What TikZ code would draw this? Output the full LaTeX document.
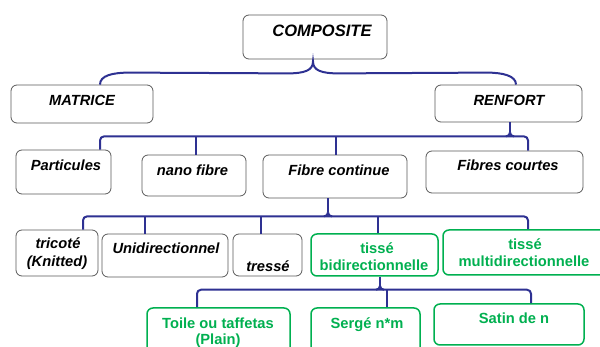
\documentclass[tikz,border=0pt]{standalone}
\usepackage{fontspec}
\setmainfont{Liberation Sans}
\definecolor{conncol}{RGB}{46,49,146}
\definecolor{boxgray}{RGB}{90,90,90}
\definecolor{grn}{RGB}{0,176,80}
\begin{document}
\begin{tikzpicture}[x=1pt,y=-1pt,
  box/.style={draw=boxgray, line width=0.8pt, rounded corners=6pt, inner sep=0pt},
  gbox/.style={draw=grn, line width=1.5pt, rounded corners=6pt, inner sep=0pt},
  lbl/.style={anchor=base, inner sep=0pt, font=\fontsize{14.7}{17.6}\selectfont\bfseries\itshape},
  glbl/.style={anchor=base, inner sep=0pt, text=grn, font=\fontsize{14.7}{17.6}\selectfont\bfseries},
  conn/.style={draw=conncol, line width=2pt}]
\useasboundingbox (0,0) rectangle (600,347);
\fill[white] (0,0) rectangle (600,347);
% boxes
\node[box, minimum width=144pt, minimum height=44pt] (composite) at (315,37) {};
\node[box, minimum width=142pt, minimum height=38pt] (matrice) at (82,104) {};
\node[box, minimum width=147pt, minimum height=37pt] (renfort) at (508.5,103.5) {};
\node[box, minimum width=95pt, minimum height=44pt] (particules) at (63.5,172) {};
\node[box, minimum width=104pt, minimum height=41pt] (nanofibre) at (194,175.5) {};
\node[box, minimum width=144pt, minimum height=43pt] (fcont) at (335,176.5) {};
\node[box, minimum width=157pt, minimum height=42pt] (fcourtes) at (504.5,172) {};
\node[box, minimum width=82pt, minimum height=46pt] (tricote) at (57,253) {};
\node[box, minimum width=126pt, minimum height=43pt] (unidir) at (165,255.5) {};
\node[box, minimum width=69pt, minimum height=42pt] (tresse) at (267.5,255) {};
\node[gbox, minimum width=127pt, minimum height=42pt] (tbi) at (374.5,255) {};
\node[gbox, minimum width=164pt, minimum height=45pt] (tmulti) at (525,252.5) {};
\node[gbox, minimum width=143pt, minimum height=48pt] (toile) at (218.5,332) {};
\node[gbox, minimum width=109pt, minimum height=48pt] (serge) at (365.5,332) {};
\node[gbox, minimum width=150pt, minimum height=41pt] (satin) at (509,324.5) {};
% texts
\node[lbl, font=\fontsize{16.5}{19}\selectfont\bfseries\itshape] (composite-t) at (322,37) {COMPOSITE};
\node[lbl] (matrice-t) at (82,106) {MATRICE};
\node[lbl] (renfort-t) at (509,106) {RENFORT};
\node[lbl] (particules-t) at (66,171) {Particules};
\node[lbl] (nanofibre-t) at (192.5,176) {nano fibre};
\node[lbl] (fcont-t) at (339,176) {Fibre continue};
\node[lbl] (fcourtes-t) at (508,171) {Fibres courtes};
\node[lbl] (tricote-t1) at (58,249) {tricoté};
\node[lbl] (tricote-t2) at (57,266.5) {(Knitted)};
\node[lbl] (unidir-t) at (166,254) {Unidirectionnel};
\node[lbl] (tresse-t) at (268,272) {tressé};
\node[glbl] (tbi-t1) at (377,253.5) {tissé};
\node[glbl] (tbi-t2) at (374,271) {bidirectionnelle};
\node[glbl] (tmulti-t1) at (525,249.5) {tissé};
\node[glbl] (tmulti-t2) at (524,267) {multidirectionnelle};
\node[glbl] (toile-t1) at (218,328.5) {Toile ou taffetas};
\node[glbl] (toile-t2) at (218,344.5) {(Plain)};
\node[glbl] (serge-t) at (367,328.5) {Sergé n*m};
\node[glbl] (satin-t) at (514,323.5) {Satin de n};
% brace 1
\draw[conn] ([xshift=18pt]matrice.north) .. controls +(0,-9) and +(-18,0) .. ++(30,-12)
  -- ([xshift=-28pt,yshift=-14pt]composite.south)
  .. controls +(18,0) and +(0,9) .. ([xshift=-2pt,yshift=-2pt]composite.south)
  .. controls +(0,9) and +(-18,0) .. ([xshift=24pt,yshift=-14pt]composite.south)
  -- ([xshift=-22pt,yshift=12pt]renfort.north)
  .. controls +(16,0) and +(0,-9) .. ([xshift=7.5pt]renfort.north);
% brace 2
\coordinate (q2) at ([xshift=1.5pt,yshift=-14pt]renfort.south);
\draw[conn, rounded corners=4pt] ([xshift=36.5pt]particules.north) |- (q2) -| ([xshift=23.5pt]fcourtes.north);
\draw[conn] ([xshift=1.5pt]renfort.south) -- ([xshift=1.5pt,yshift=-10pt]renfort.south) coordinate (s2);
\draw[conn] (s2) to[out=270,in=0] ++(-4,4);
\draw[conn] (s2) to[out=270,in=180] ++(4,4);
\draw[conn] ([xshift=2pt]nanofibre.north) -- ([xshift=2pt]nanofibre.north |- q2);
\draw[conn] ([xshift=1pt]fcont.north) -- ([xshift=1pt]fcont.north |- q2);
% brace 3
\coordinate (q3) at ([xshift=-7pt,yshift=-18pt]fcont.south);
\draw[conn, rounded corners=4pt] ([xshift=26pt]tricote.north) |- (q3) -| ([xshift=3pt]tmulti.north);
\draw[conn] ([xshift=-7pt]fcont.south) -- ([xshift=-7pt,yshift=-14pt]fcont.south) coordinate (s3);
\draw[conn] (s3) to[out=270,in=0] ++(-4,4);
\draw[conn] (s3) to[out=270,in=180] ++(4,4);
\draw[conn] ([xshift=-20pt]unidir.north) -- ([xshift=-20pt]unidir.north |- q3);
\draw[conn] ([xshift=-6.5pt]tresse.north) -- ([xshift=-6.5pt]tresse.north |- q3);
\draw[conn] ([xshift=3.5pt]tbi.north) -- ([xshift=3.5pt]tbi.north |- q3);
% brace 4
\coordinate (q4) at ([xshift=5.5pt,yshift=-13pt]tbi.south);
\draw[conn, rounded corners=4pt] ([xshift=-21.5pt]toile.north) |- (q4) -| ([xshift=22pt]satin.north);
\draw[conn] ([xshift=5.5pt]tbi.south) -- ([xshift=5.5pt,yshift=-9pt]tbi.south) coordinate (s4);
\draw[conn] (s4) to[out=270,in=0] ++(-4,4);
\draw[conn] (s4) to[out=270,in=180] ++(4,4);
\draw[conn] ([xshift=21.5pt]serge.north) -- ([xshift=21.5pt]serge.north |- q4);
\end{tikzpicture}
\end{document}
